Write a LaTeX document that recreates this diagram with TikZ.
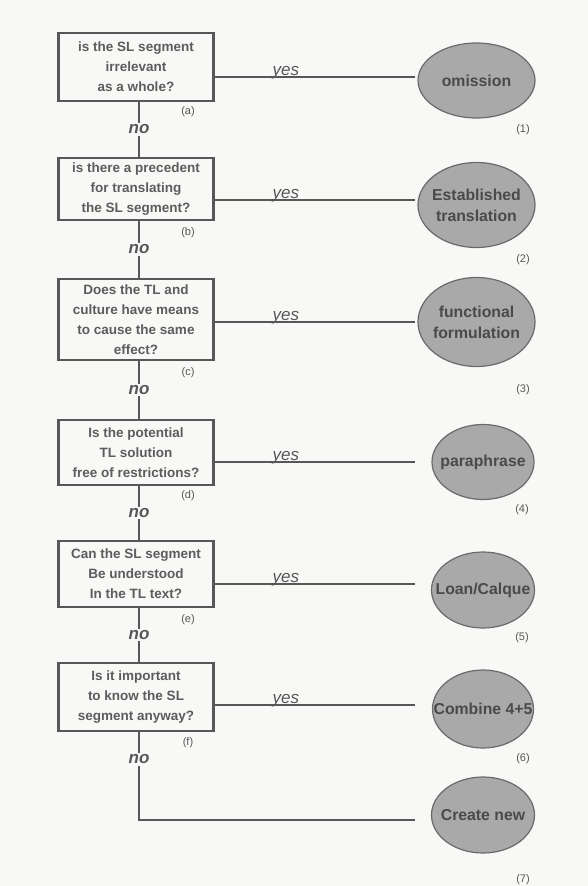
\documentclass[tikz,border=0pt]{standalone}
\usepackage{fontspec}
\setmainfont{Liberation Sans}
\usetikzlibrary{shapes.geometric}
\definecolor{ink}{HTML}{575757}
\definecolor{txt}{HTML}{5C5C5C}
\definecolor{bubble}{HTML}{A9A9A9}
\definecolor{bubbleedge}{HTML}{6A6A6A}
\definecolor{bubbletxt}{HTML}{4A4A4A}
\definecolor{paper}{HTML}{F8F8F6}
% text that does not widen the ellipse around it
\newcommand{\flatline}[1]{\makebox[0pt]{#1}}

\begin{document}
\begin{tikzpicture}[x=1pt,y=-1pt,
  question/.style={draw=ink, line width=2.4pt, fill=paper, minimum width=155pt,
    align=center, inner sep=0pt, text=txt,
    font=\fontsize{13.5}{20}\selectfont\bfseries},
  outcome/.style={ellipse, draw=bubbleedge, line width=1.2pt, fill=bubble,
    inner sep=0pt, align=center, text=bubbletxt,
    font=\fontsize{15.8}{21}\selectfont\bfseries},
  link/.style={draw=ink, line width=2pt},
  yeslabel/.style={anchor=base, inner sep=0pt, text=ink,
    font=\fontsize{17}{17}\selectfont\itshape},
  nolabel/.style={fill=paper, inner sep=1.5pt, text=ink,
    font=\fontsize{17}{17}\selectfont\bfseries\itshape},
  tag/.style={inner sep=0pt, text=ink, font=\fontsize{11}{11}\selectfont}]

% page
\path[fill=paper] (0,0) rectangle (588,886);

% questions
\node[question, minimum height=68pt] (qa) at (136,67)
  {is the SL segment\\ irrelevant\\ as a whole?};
\node[question, minimum height=62pt] (qb) at (136,189)
  {is there a precedent\\ for translating\\ the SL segment?};
\node[question, minimum height=81pt] (qc) at (136,319.5)
  {Does the TL and\\ culture have means\\ to cause the same\\ effect?};
\node[question, minimum height=65pt] (qd) at (136,452.5)
  {Is the potential\\ TL solution\\ free of restrictions?};
\node[question, minimum height=66pt] (qe) at (136,574)
  {Can the SL segment\\ Be understood\\ In the TL text?};
\node[question, minimum height=68pt] (qf) at (136,697)
  {Is it important\\ to know the SL\\ segment anyway?};

% question tags
\node[tag] (ta) at (188,112) {(a)};
\node[tag] (tb) at (188,233) {(b)};
\node[tag] (tc) at (188,373) {(c)};
\node[tag] (td) at (188,496) {(d)};
\node[tag] (te) at (188,620) {(e)};
\node[tag] (tf) at (188,743) {(f)};

% outcomes
\node[outcome, minimum width=117pt, minimum height=75pt] (o1) at (476.5,80.5)
  {\flatline{omission}};
\node[outcome, minimum width=117pt, minimum height=85pt] (o2) at (476.5,205)
  {\flatline{Established}\\\flatline{translation}};
\node[outcome, minimum width=117pt, minimum height=89pt] (o3) at (476.5,322)
  {\flatline{functional}\\\flatline{formulation}};
\node[outcome, minimum width=102pt, minimum height=75pt] (o4) at (483,462)
  {\flatline{paraphrase}};
\node[outcome, minimum width=103pt, minimum height=76pt] (o5) at (483,590)
  {\flatline{Loan/Calque}};
\node[outcome, minimum width=101pt, minimum height=78pt] (o6) at (483,709)
  {\flatline{Combine 4+5}};
\node[outcome, minimum width=103pt, minimum height=76pt] (o7) at (483,815)
  {\flatline{Create new}};

% outcome tags
\node[tag] (n1) at (523,130) {(1)};
\node[tag] (n2) at (523,260) {(2)};
\node[tag] (n3) at (523,390) {(3)};
\node[tag] (n4) at (522,510) {(4)};
\node[tag] (n5) at (522,638) {(5)};
\node[tag] (n6) at (523,759) {(6)};
\node[tag] (n7) at (523,880) {(7)};

% ends of the yes branches
\coordinate (ya) at (415,77);
\coordinate (yb) at (415,200);
\coordinate (yc) at (415,322);
\coordinate (yd) at (415,462);
\coordinate (ye) at (415,584);
\coordinate (yf) at (415,705);
\coordinate (yg) at (415,820);

% yes branches
\foreach \q/\e in {qa/ya,qb/yb,qc/yc,qd/yd,qe/ye,qf/yf}
  \draw[link] (\q.east |- \e) -- node[yeslabel, pos=0.355, yshift=2pt] {yes} (\e);

% no branches
\draw[link] ([xshift=3pt]qa.south) -- node[nolabel] {no} ([xshift=3pt]qb.north);
\draw[link] ([xshift=3pt]qb.south) -- node[nolabel] {no} ([xshift=3pt]qc.north);
\draw[link] ([xshift=3pt]qc.south) -- node[nolabel] {no} ([xshift=3pt]qd.north);
\draw[link] ([xshift=3pt]qd.south) -- node[nolabel] {no} ([xshift=3pt]qe.north);
\draw[link] ([xshift=3pt]qe.south) -- node[nolabel] {no} ([xshift=3pt]qf.north);
\path ([xshift=3pt]qf.south) coordinate (fdrop);
\draw[link] (fdrop) -- node[nolabel, pos=0.31] {no} (fdrop |- yg) -- (yg);
\end{tikzpicture}
\end{document}
